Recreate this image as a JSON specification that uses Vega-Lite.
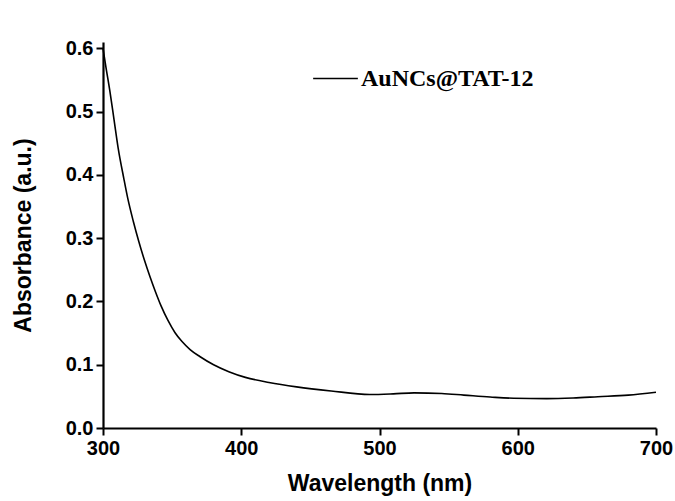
{
  "$schema": "https://vega.github.io/schema/vega-lite/v6.json",
  "width": 553,
  "height": 386,
  "autosize": {"type": "none"},
  "padding": {"left": 103, "top": 42, "right": 19, "bottom": 73},
  "background": "white",
  "data": {"values": [
    {"wl": 300, "abs": 0.600, "series": "AuNCs@TAT-12"},
    {"wl": 302, "abs": 0.572, "series": "AuNCs@TAT-12"},
    {"wl": 305, "abs": 0.532, "series": "AuNCs@TAT-12"},
    {"wl": 308, "abs": 0.487, "series": "AuNCs@TAT-12"},
    {"wl": 311, "abs": 0.442, "series": "AuNCs@TAT-12"},
    {"wl": 315, "abs": 0.395, "series": "AuNCs@TAT-12"},
    {"wl": 318, "abs": 0.362, "series": "AuNCs@TAT-12"},
    {"wl": 322, "abs": 0.326, "series": "AuNCs@TAT-12"},
    {"wl": 326, "abs": 0.294, "series": "AuNCs@TAT-12"},
    {"wl": 330, "abs": 0.265, "series": "AuNCs@TAT-12"},
    {"wl": 334, "abs": 0.239, "series": "AuNCs@TAT-12"},
    {"wl": 338, "abs": 0.215, "series": "AuNCs@TAT-12"},
    {"wl": 342, "abs": 0.193, "series": "AuNCs@TAT-12"},
    {"wl": 347, "abs": 0.170, "series": "AuNCs@TAT-12"},
    {"wl": 352, "abs": 0.151, "series": "AuNCs@TAT-12"},
    {"wl": 357, "abs": 0.137, "series": "AuNCs@TAT-12"},
    {"wl": 363, "abs": 0.124, "series": "AuNCs@TAT-12"},
    {"wl": 370, "abs": 0.113, "series": "AuNCs@TAT-12"},
    {"wl": 380, "abs": 0.100, "series": "AuNCs@TAT-12"},
    {"wl": 391, "abs": 0.089, "series": "AuNCs@TAT-12"},
    {"wl": 403, "abs": 0.080, "series": "AuNCs@TAT-12"},
    {"wl": 420, "abs": 0.072, "series": "AuNCs@TAT-12"},
    {"wl": 440, "abs": 0.065, "series": "AuNCs@TAT-12"},
    {"wl": 465, "abs": 0.0585, "series": "AuNCs@TAT-12"},
    {"wl": 493, "abs": 0.053, "series": "AuNCs@TAT-12"},
    {"wl": 510, "abs": 0.054, "series": "AuNCs@TAT-12"},
    {"wl": 525, "abs": 0.0555, "series": "AuNCs@TAT-12"},
    {"wl": 545, "abs": 0.0545, "series": "AuNCs@TAT-12"},
    {"wl": 561, "abs": 0.052, "series": "AuNCs@TAT-12"},
    {"wl": 580, "abs": 0.049, "series": "AuNCs@TAT-12"},
    {"wl": 597, "abs": 0.047, "series": "AuNCs@TAT-12"},
    {"wl": 621, "abs": 0.0465, "series": "AuNCs@TAT-12"},
    {"wl": 640, "abs": 0.0475, "series": "AuNCs@TAT-12"},
    {"wl": 658, "abs": 0.0495, "series": "AuNCs@TAT-12"},
    {"wl": 680, "abs": 0.052, "series": "AuNCs@TAT-12"},
    {"wl": 700, "abs": 0.0565, "series": "AuNCs@TAT-12"}
  ]},
  "mark": {"type": "line", "interpolate": "monotone", "strokeWidth": 1.6, "clip": false},
  "encoding": {
    "x": {
      "field": "wl", "type": "quantitative",
      "scale": {"domain": [300, 700], "nice": false, "zero": false},
      "axis": {"title": "Wavelength (nm)", "values": [300, 400, 500, 600, 700], "format": "d", "titlePadding": 14}
    },
    "y": {
      "field": "abs", "type": "quantitative",
      "scale": {"domain": [0, 0.61], "nice": false},
      "axis": {"title": "Absorbance (a.u.)", "values": [0, 0.1, 0.2, 0.3, 0.4, 0.5, 0.6], "format": ".1f", "titlePadding": 30}
    },
    "color": {
      "field": "series", "type": "nominal",
      "scale": {"range": ["black"]},
      "legend": {
        "title": null, "orient": "none", "legendX": 209, "legendY": 13,
        "symbolType": "stroke", "symbolSize": 2000, "symbolStrokeWidth": 1.6,
        "labelFont": "Liberation Serif", "labelFontWeight": "bold", "labelFontSize": 24,
        "labelColor": "black", "labelOffset": 2, "labelLimit": 400
      }
    }
  },
  "config": {
    "view": {"stroke": null},
    "axis": {
      "grid": false,
      "domainColor": "black", "domainWidth": 2.2,
      "tickColor": "black", "tickWidth": 2, "tickSize": 7,
      "labelFlush": false, "labelOverlap": false,
      "labelFont": "Liberation Sans", "labelFontWeight": "bold", "labelFontSize": 20, "labelColor": "black", "labelPadding": 3,
      "titleFont": "Liberation Sans", "titleFontWeight": "bold", "titleFontSize": 23, "titleColor": "black"
    }
  }
}
